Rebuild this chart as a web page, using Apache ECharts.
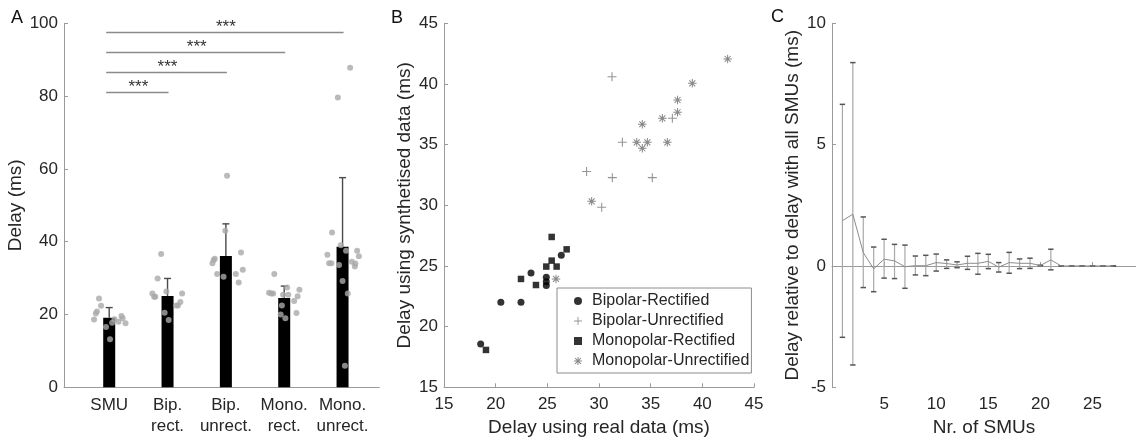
<!DOCTYPE html>
<html>
<head>
<meta charset="utf-8">
<script src="https://cdn.jsdelivr.net/npm/echarts@6/dist/echarts.min.js"></script>
<style>html,body{margin:0;padding:0;background:#fff}#c{width:1136px;height:444px}</style>
</head>
<body>
<div id="c"></div>
<script>
// ---------- Panel A data ----------
const catNames = ['SMU', 'Bip.\nrect.', 'Bip.\nunrect.', 'Mono.\nrect.', 'Mono.\nunrect.'];
const catPos = [1, 2, 3, 4, 5];
const barMeans = [19.1, 25.1, 36.1, 24.5, 38.6];
const barUpper = [21.9, 29.9, 44.9, 27.8, 57.6];
// jittered individual points: offset from category, value
const dotsSMU = [[-0.26,18.6],[-0.23,20.3],[-0.21,20.8],[-0.14,22.4],[-0.175,24.4],[-0.055,16.6],[0.014,13.2],[0.05,17.7],[0.09,18.7],[0.16,18.0],[0.21,19.6],[0.23,19.0],[0.28,17.6]];
const dotsBipRect = [[-0.26,25.8],[-0.23,24.9],[-0.21,24.9],[-0.17,29.9],[-0.11,36.6],[-0.05,20.5],[0.02,18.5],[-0.02,26.3],[0.15,22.5],[0.18,22.5],[0.22,23.4],[0.25,25.8]];
const dotsBipUnrect = [[-0.23,34.1],[-0.21,35.0],[-0.19,35.3],[-0.15,31.1],[-0.04,30.4],[-0.01,43.0],[0.02,58.1],[0.17,31.1],[0.26,37.0],[0.29,32.3],[0.22,28.8]];
const dotsMonoRect = [[-0.26,26.0],[-0.22,25.8],[-0.19,25.8],[-0.17,31.1],[-0.06,20.0],[-0.04,22.5],[0.02,19.0],[-0.02,25.4],[0.05,27.4],[0.07,25.4],[0.17,23.7],[0.21,20.4],[0.23,25.0],[0.26,26.8]];
const dotsMonoUnrect = [[-0.26,36.4],[-0.23,34.1],[-0.19,34.1],[-0.18,42.5],[-0.08,79.6],[-0.06,33.6],[-0.03,39.0],[0.0,29.2],[0.04,5.9],[0.06,37.5],[0.09,25.8],[0.13,87.8],[0.16,34.5],[0.21,33.2],[0.22,34.0],[0.25,37.5],[0.28,36.0]];
const allDots = [dotsSMU, dotsBipRect, dotsBipUnrect, dotsMonoRect, dotsMonoUnrect];
const sigFrom = [1, 1, 1, 1];
const sigTo = [2, 3, 4, 5];
const sigY = [81, 86.5, 92, 97.5];
const sigText = '***';

// ---------- Panel B data ----------
const bipRectX = [18.55, 20.5, 22.45, 23.42, 24.9, 24.9, 24.9, 26.35];
const bipRectY = [18.57, 22.0, 22.0, 24.42, 24.07, 23.7, 23.4, 25.88];
const bipUnrectX = [28.8, 30.26, 31.26, 31.29, 32.26, 35.16, 37.1];
const bipUnrectY = [32.78, 29.84, 40.6, 32.28, 35.19, 32.28, 37.17];
const monoRectX = [19.06, 22.45, 23.9, 24.9, 25.42, 25.42, 25.9, 26.87];
const monoRectY = [18.08, 23.93, 23.43, 24.95, 27.39, 25.44, 24.95, 26.37];
const monoUnrectX = [25.84, 29.29, 33.65, 34.19, 34.19, 34.68, 36.13, 36.61, 37.6, 37.6, 39.03, 42.45];
const monoUnrectY = [23.93, 30.33, 35.19, 36.68, 34.70, 35.19, 37.17, 35.19, 37.67, 38.68, 40.05, 42.06];
const seriesNamesB = ['Bipolar-Rectified', 'Bipolar-Unrectified', 'Monopolar-Rectified', 'Monopolar-Unrectified'];

// ---------- Panel C data ----------
const nSMU = [1,2,3,4,5,6,7,8,9,10,11,12,13,14,15,16,17,18,19,20,21,22,23,24,25,26,27];
const cMean  = [1.87, 2.13, 0.55, -0.12, 0.28, 0.21, -0.03, 0.01, 0.01, 0.14, 0.10, 0.04, 0.11, 0.11, 0.19, -0.05, 0.14, 0.11, 0.11, 0.02, 0.25, 0, 0, 0, 0, 0, 0];
const cUpper = [6.66, 8.38, 2.02, 0.78, 1.10, 0.89, 0.86, 0.41, 0.44, 0.49, 0.25, 0.17, 0.40, 0.52, 0.48, 0.14, 0.56, 0.29, 0.32, 0.02, 0.69, 0, 0, 0, 0, 0, 0];
const cLower = [-2.94, -4.08, -0.89, -1.06, -0.50, -0.52, -0.92, -0.37, -0.40, -0.21, -0.10, -0.07, -0.14, -0.34, -0.11, -0.25, -0.30, -0.11, -0.10, 0.02, -0.16, 0, 0, 0, 0, 0, 0];
const cXTicks = [5, 10, 15, 20, 25];

// ---------- styling ----------
const FONT = "'Liberation Sans', Arial, Helvetica, sans-serif";
const TXT = '#262626';
const AX = '#9a9a9a';
const plusPath = 'path://M4.4,0H5.6V4.4H10V5.6H5.6V10H4.4V5.6H0V4.4H4.4Z';
const starPath = 'path://M0,4.4H10V5.6H0ZM4.4,0H5.6V10H4.4ZM1.08,1.92L1.92,1.08L8.92,8.08L8.08,8.92ZM1.08,8.08L8.08,1.08L8.92,1.92L1.92,8.92Z';
const squarePath = 'path://M0,0H10V10H0Z';

function axisCommon() {
  return {
    axisLine: {show: true, lineStyle: {color: AX, width: 1}},
    axisTick: {show: true, inside: true, length: 4, lineStyle: {color: AX}},
    axisLabel: {color: TXT, fontFamily: FONT, fontSize: 17},
    splitLine: {show: false},
    nameTextStyle: {color: TXT, fontFamily: FONT, fontSize: 19},
    nameLocation: 'middle'
  };
}

const chart = echarts.init(document.getElementById('c'), null, {renderer: 'canvas'});

const dotData = [];
allDots.forEach((grp, gi) => grp.forEach(d => dotData.push([catPos[gi] + d[0], d[1]])));

const option = {
  animation: false,
  backgroundColor: '#fff',
  grid: [
    {left: 64, top: 23.3, width: 315.3, height: 364},
    {left: 444, top: 23.3, width: 310, height: 364},
    {left: 832, top: 23.3, width: 304, height: 364}
  ],
  xAxis: [
    Object.assign(axisCommon(), {
      gridIndex: 0, type: 'value', min: 0.225, max: 5.63,
      axisTick: {show: false},
      axisLabel: {color: TXT, fontFamily: FONT, fontSize: 17, lineHeight: 21, margin: 8,
        customValues: catPos, formatter: v => catNames[catPos.indexOf(Math.round(v))] || ''}
    }),
    Object.assign(axisCommon(), {
      gridIndex: 1, type: 'value', min: 15, max: 45, interval: 5,
      name: 'Delay using real data (ms)', nameGap: 25,
      axisLabel: {color: TXT, fontFamily: FONT, fontSize: 17, margin: 9}
    }),
    Object.assign(axisCommon(), {
      gridIndex: 2, type: 'value', min: 0, max: 29.17,
      name: 'Nr. of SMUs', nameGap: 25,
      axisTick: {show: true, inside: true, length: 4, lineStyle: {color: AX}, customValues: cXTicks},
      axisLabel: {color: TXT, fontFamily: FONT, fontSize: 17, margin: 9, customValues: cXTicks}
    })
  ],
  yAxis: [
    Object.assign(axisCommon(), {
      gridIndex: 0, type: 'value', min: 0, max: 100, interval: 20,
      name: 'Delay (ms)', nameGap: 30,
      axisLabel: {color: TXT, fontFamily: FONT, fontSize: 17, margin: 6}
    }),
    Object.assign(axisCommon(), {
      gridIndex: 1, type: 'value', min: 15, max: 45, interval: 5,
      name: 'Delay using synthetised data (ms)', nameGap: 30,
      axisLabel: {color: TXT, fontFamily: FONT, fontSize: 17, margin: 6}
    }),
    Object.assign(axisCommon(), {
      gridIndex: 2, type: 'value', min: -5, max: 10, interval: 5,
      name: 'Delay relative to delay with all SMUs (ms)', nameGap: 30,
      axisLabel: {color: TXT, fontFamily: FONT, fontSize: 17, margin: 6}
    })
  ],
  legend: {
    show: true, orient: 'vertical', left: 557, top: 288,
    padding: [5, 2, 4, 17],
    itemWidth: 18, itemHeight: 8, itemGap: 4, symbolKeepAspect: true,
    borderColor: '#8c8c8c', borderWidth: 1, backgroundColor: '#fff',
    textStyle: {color: TXT, fontFamily: FONT, fontSize: 16, lineHeight: 16},
    data: seriesNamesB
  },
  graphic: [
    {type: 'text', left: 11, top: 9, style: {text: 'A', font: '18px ' + FONT, fill: '#111'}},
    {type: 'text', left: 391, top: 9, style: {text: 'B', font: '18px ' + FONT, fill: '#111'}},
    {type: 'text', left: 771, top: 8, style: {text: 'C', font: '18px ' + FONT, fill: '#111'}}
  ],
  series: [
    // ----- Panel A -----
    {
      type: 'bar', xAxisIndex: 0, yAxisIndex: 0, barWidth: 12,
      itemStyle: {color: '#000'},
      data: catPos.map((c, i) => [c, barMeans[i]])
    },
    {
      type: 'custom', xAxisIndex: 0, yAxisIndex: 0, z: 3,
      data: catPos.map((c, i) => [c, barMeans[i], barUpper[i]]),
      renderItem: (params, api) => {
        const p0 = api.coord([api.value(0), api.value(1)]);
        const p1 = api.coord([api.value(0), api.value(2)]);
        const st = {stroke: '#4a4a4a', lineWidth: 1.4};
        return {type: 'group', children: [
          {type: 'line', shape: {x1: p0[0], y1: p0[1], x2: p1[0], y2: p1[1]}, style: st},
          {type: 'line', shape: {x1: p1[0] - 3.5, y1: p1[1], x2: p1[0] + 3.5, y2: p1[1]}, style: st}
        ]};
      }
    },
    {
      type: 'scatter', xAxisIndex: 0, yAxisIndex: 0, z: 4,
      symbol: 'circle', symbolSize: 6,
      itemStyle: {color: '#a9a9a9'},
      data: dotData
    },
    {
      type: 'custom', xAxisIndex: 0, yAxisIndex: 0, z: 3, clip: false,
      data: sigFrom.map((f, i) => [f, sigTo[i], sigY[i]]),
      renderItem: (params, api) => {
        const a = api.coord([api.value(0), api.value(2)]);
        const b = api.coord([api.value(1), api.value(2)]);
        return {type: 'group', children: [
          {type: 'line', shape: {x1: a[0] - 3, y1: a[1], x2: b[0] + 1, y2: b[1]}, style: {stroke: '#8a8a8a', lineWidth: 1.5}},
          {type: 'text', style: {text: sigText, x: (a[0] + b[0]) / 2, y: a[1] - 5, align: 'center', verticalAlign: 'middle', fontFamily: FONT, fontSize: 17, fill: '#333'}}
        ]};
      }
    },
    // ----- Panel B -----
    {
      name: seriesNamesB[0], type: 'scatter', xAxisIndex: 1, yAxisIndex: 1,
      symbol: 'circle', symbolSize: 7, itemStyle: {color: '#000'},
      data: bipRectX.map((x, i) => [x, bipRectY[i]])
    },
    {
      name: seriesNamesB[1], type: 'scatter', xAxisIndex: 1, yAxisIndex: 1,
      symbol: plusPath, symbolSize: 9, itemStyle: {color: '#7a7a7a'},
      data: bipUnrectX.map((x, i) => [x, bipUnrectY[i]])
    },
    {
      name: seriesNamesB[2], type: 'scatter', xAxisIndex: 1, yAxisIndex: 1,
      symbol: squarePath, symbolSize: 6.5, itemStyle: {color: '#000'},
      data: monoRectX.map((x, i) => [x, monoRectY[i]])
    },
    {
      name: seriesNamesB[3], type: 'scatter', xAxisIndex: 1, yAxisIndex: 1,
      symbol: starPath, symbolSize: 8.5, itemStyle: {color: '#6a6a6a'},
      data: monoUnrectX.map((x, i) => [x, monoUnrectY[i]])
    },
    // ----- Panel C -----
    {
      type: 'line', xAxisIndex: 2, yAxisIndex: 2, showSymbol: false, symbol: 'none',
      lineStyle: {color: '#8c8c8c', width: 1},
      data: nSMU.map((n, i) => [n, cMean[i]])
    },
    {
      type: 'custom', xAxisIndex: 2, yAxisIndex: 2, z: 3,
      data: nSMU.map((n, i) => [n, cLower[i], cUpper[i]]),
      renderItem: (params, api) => {
        const lo = api.coord([api.value(0), api.value(1)]);
        const hi = api.coord([api.value(0), api.value(2)]);
        const cap = {stroke: '#555', lineWidth: 1.5};
        return {type: 'group', children: [
          {type: 'line', shape: {x1: lo[0], y1: lo[1], x2: hi[0], y2: hi[1]}, style: {stroke: '#a8a8a8', lineWidth: 1.2}},
          {type: 'line', shape: {x1: hi[0] - 2.7, y1: hi[1], x2: hi[0] + 2.7, y2: hi[1]}, style: cap},
          {type: 'line', shape: {x1: lo[0] - 2.7, y1: lo[1], x2: lo[0] + 2.7, y2: lo[1]}, style: cap}
        ]};
      }
    }
  ]
};
chart.setOption(option);
</script>
</body>
</html>
